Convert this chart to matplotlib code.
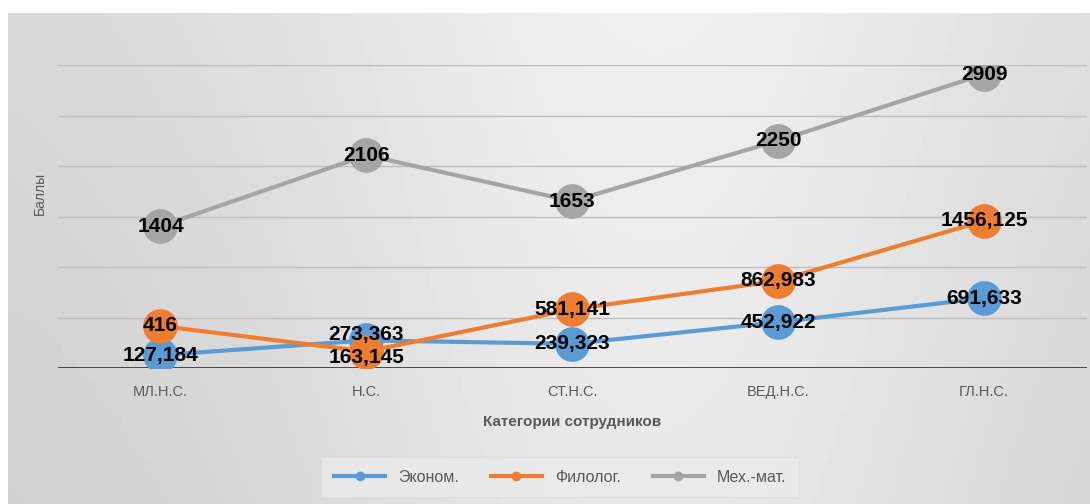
import numpy as np
import matplotlib
matplotlib.use("Agg")
import matplotlib.pyplot as plt
from matplotlib.lines import Line2D

plt.rcParams['font.family'] = ['Liberation Sans', 'DejaVu Sans']

# данные
cats = ["МЛ.Н.С.", "Н.С.", "СТ.Н.С.", "ВЕД.Н.С.", "ГЛ.Н.С."]
econ = [127.184, 273.363, 239.323, 452.922, 691.633]
filol = [416, 163.145, 581.141, 862.983, 1456.125]
mehmat = [1404, 2106, 1653, 2250, 2909]
names = ["Эконом.", "Филолог.", "Мех.-мат."]
colors = ["#5B9BD5", "#ED7D31", "#A5A5A5"]

fig = plt.figure(figsize=(10.9, 5.04), dpi=100)
fig.patch.set_facecolor("white")

# серый фон с градиентом
bg = fig.add_axes([8 / 1090, 0, 1 - 8 / 1090, 1 - 13 / 504])
gx = np.linspace(0, 1, 200)
gy = np.linspace(0, 1, 100)
GX, GY = np.meshgrid(gx, gy)
grad = 0.845 + 0.095 * np.exp(-((GX - 0.6) ** 2) / 0.12) - 0.03 * (1 - GY[::-1])
bg.imshow(grad, cmap="gray", vmin=0, vmax=1, aspect="auto", extent=[0, 1, 0, 1])
bg.set_axis_off()

ax = fig.add_axes([57.5 / 1090, 1 - 368 / 504, (1087 - 57.5) / 1090, (368 - 65) / 504])
ax.set_facecolor("none")
x = np.arange(len(cats))

ax.set_ylim(0, 3000)
ax.set_xlim(-0.5, len(cats) - 0.5)
for v in range(500, 3001, 500):
    ax.axhline(v, color="#bdbdbd", lw=1, zorder=1)
ax.axhline(0, color="#3a3a3a", lw=2, zorder=2)

series = [econ, filol, mehmat]
for i, s in enumerate(series):
    ax.plot(x, s, color=colors[i], lw=3, marker="o", ms=25,
            markeredgewidth=0, zorder=3 + i)

# небольшой сдвиг подписей у Н.С., где они наезжают друг на друга
shift = {(0, 1): 4, (1, 1): -4}
for k, s in enumerate(series):
    for xi, v in zip(x, s):
        txt = f"{v:.3f}".replace(".", ",") if v != int(v) else str(int(v))
        ax.annotate(txt, (xi, v), xytext=(0, shift.get((k, xi), 0)),
                    textcoords="offset points", ha="center", va="center",
                    fontsize=15, fontweight="bold", color="black", zorder=10)

for sp in ax.spines.values():
    sp.set_visible(False)
ax.set_yticks([])
ax.set_xticks(x)
ax.set_xticklabels(cats, fontsize=10.5, color="#595959")
ax.tick_params(axis="x", length=0, pad=12)
ax.set_xlabel("Категории сотрудников", fontsize=11, fontweight="bold",
              color="#595959", labelpad=12)

fig.text(40 / 1090, 1 - 193 / 504, "Баллы", rotation=90, ha="center",
         va="center", fontsize=10, color="#595959")

handles = [Line2D([0], [0], color=c, lw=3, marker="o", ms=6) for c in colors]
leg = fig.legend(handles, names, loc="center", bbox_to_anchor=(560 / 1090, 1 - 477 / 504),
                 ncol=3, frameon=True, fontsize=11.5, handlelength=3.2,
                 columnspacing=2.0, borderpad=0.5)
leg.get_frame().set_facecolor("#ebebeb")
leg.get_frame().set_edgecolor("#dddddd")
leg.get_frame().set_boxstyle("square")
for t in leg.get_texts():
    t.set_color("#595959")

fig.savefig("out.png", dpi=100)
